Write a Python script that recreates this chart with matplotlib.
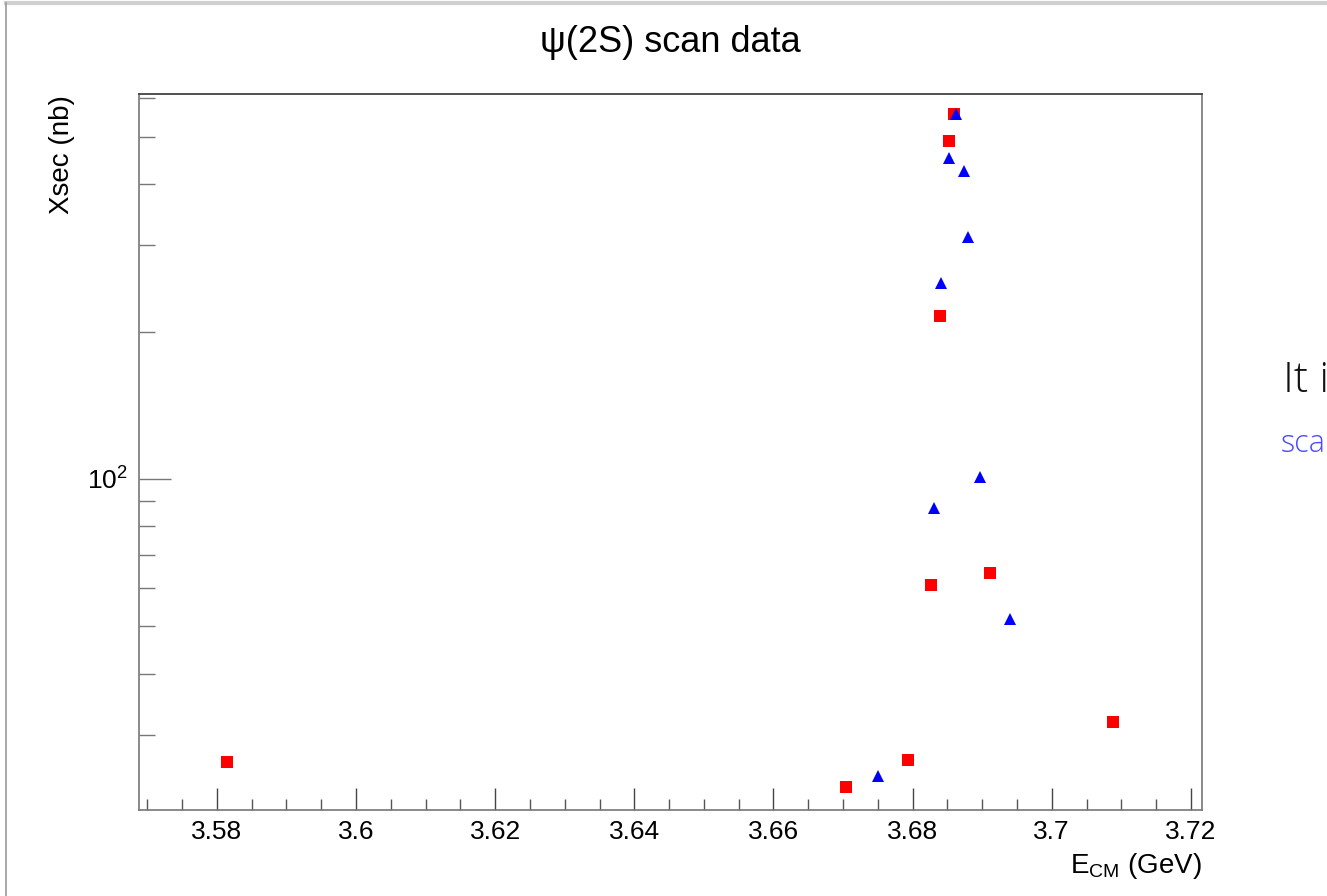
import matplotlib
matplotlib.use("Agg")
import matplotlib.pyplot as plt
from matplotlib.ticker import FixedLocator, NullFormatter, FixedFormatter
from matplotlib.lines import Line2D

# red squares
red_x = [3.5815, 3.6705, 3.6794, 3.6826, 3.6840, 3.6852, 3.6860, 3.6912, 3.7088]
red_y = [26.4, 23.5, 26.7, 60.7, 215.0, 489.0, 557.0, 64.2, 31.9]

# blue triangles
blue_x = [3.6751, 3.6831, 3.6841, 3.6853, 3.6862, 3.6874, 3.6879, 3.6897, 3.6940]
blue_y = [24.7, 87.1, 251.0, 452.0, 557.0, 426.0, 312.0, 101.0, 51.7]

x_major = [3.58, 3.60, 3.62, 3.64, 3.66, 3.68, 3.70, 3.72]
x_labels = ["3.58", "3.6", "3.62", "3.64", "3.66", "3.68", "3.7", "3.72"]
x_minor = [3.570 + 0.005 * i for i in range(31)]
y_minor = [30, 40, 50, 60, 70, 80, 90, 200, 300, 400, 500, 600]

sans = ["Liberation Sans", "DejaVu Sans"]
plt.rcParams['font.family'] = sans

fig = plt.figure(figsize=(13.27, 8.96), dpi=100)
ax = fig.add_axes([0.1047, 0.0960, 0.8011, 0.7988])

ax.plot(red_x, red_y, linestyle="none", marker="s", markersize=8,
        color="#ff0000", markeredgewidth=0)
ax.plot(blue_x, blue_y, linestyle="none", marker="^", markersize=8.5,
        color="#0000ff", markeredgewidth=0)

ax.set_yscale("log")
ax.set_xlim(3.5688, 3.7216)
ax.set_ylim(21.1, 610)

ax.xaxis.set_major_locator(FixedLocator(x_major))
ax.xaxis.set_major_formatter(FixedFormatter(x_labels))
ax.xaxis.set_minor_locator(FixedLocator(x_minor))
ax.xaxis.set_minor_formatter(NullFormatter())
ax.yaxis.set_major_locator(FixedLocator([100]))
ax.yaxis.set_major_formatter(FixedFormatter([r"$\mathregular{10^{2}}$"]))
ax.yaxis.set_minor_locator(FixedLocator(y_minor))
ax.yaxis.set_minor_formatter(NullFormatter())

ax.tick_params(axis="x", which="major", direction="in", length=16, width=1,
               color="#444444", labelsize=19, pad=7)
ax.tick_params(axis="x", which="minor", direction="in", length=8, width=1,
               color="#555555")
ax.tick_params(axis="y", which="major", direction="in", length=23, width=1,
               color="#777777", labelsize=19, pad=8)
ax.tick_params(axis="y", which="minor", direction="in", length=11.5, width=1,
               color="#777777")

for side in ["left", "bottom", "right"]:
    ax.spines[side].set_color("#777777")
    ax.spines[side].set_linewidth(1.2)
ax.spines["top"].set_color("#333333")
ax.spines["top"].set_linewidth(1.2)

fig.text(0.5052, 0.953, "ψ(2S) scan data", ha="center", va="center",
         fontsize=26)
fig.text(0.0466, 0.828, "Xsec (nb)", rotation=90, ha="center", va="center",
         fontsize=20)
fig.text(0.9058, 0.033, r"E$_{\mathregular{CM}}$ (GeV)", ha="right",
         va="center", fontsize=20)

fig.text(0.9665, 0.575, "It i", ha="left", va="center", fontsize=31,
         family=["Open Sans", "DejaVu Sans"], fontweight="light",
         color="#111111")
fig.text(0.9655, 0.505, "sca", ha="left", va="center", fontsize=22,
         family=["Open Sans", "DejaVu Sans"], fontweight="light",
         color="#4a4aff")

# window frame
fig.add_artist(Line2D([0.0045, 1.0], [0.9965, 0.9965], color="#d0d0d0",
                      linewidth=3, transform=fig.transFigure))
fig.add_artist(Line2D([0.0045, 0.0045], [0.0, 0.997], color="#999999",
                      linewidth=1.2, transform=fig.transFigure))

fig.savefig("out.png", dpi=100)
